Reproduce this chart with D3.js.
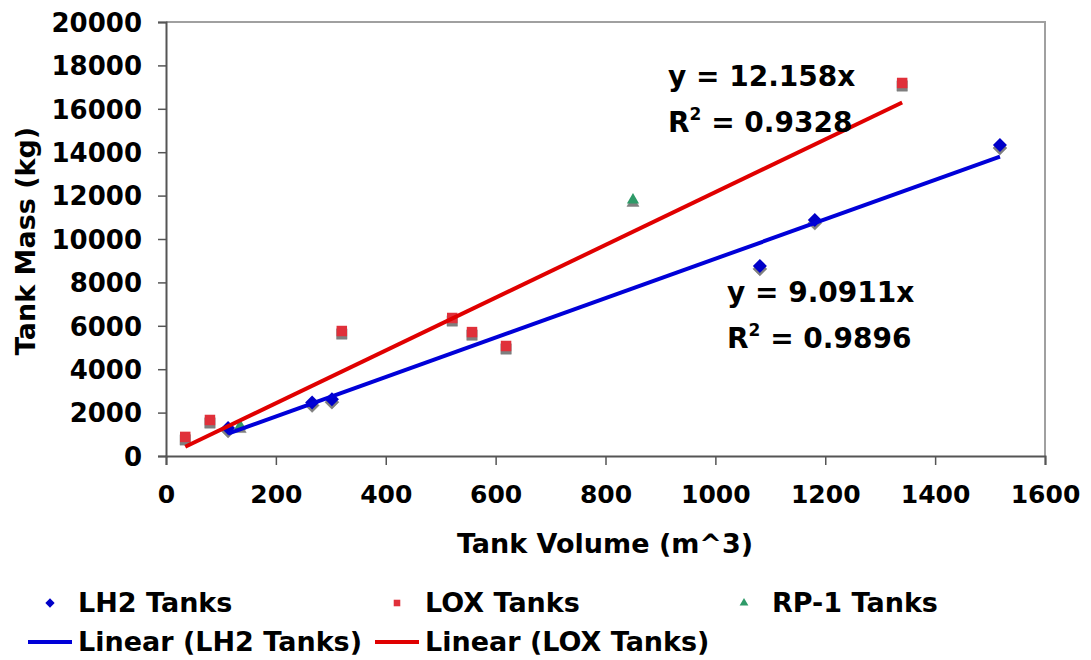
<!DOCTYPE html>
<html>
<head>
<meta charset="utf-8">
<script src="https://cdn.jsdelivr.net/npm/d3@7"></script>
<style>
  body { margin: 0; background: white; }
  text { font-family: "DejaVu Sans", Verdana, sans-serif; font-weight: bold; fill: #000; }
</style>
</head>
<body>
<div id="Canvas"></div>
<script>
// 資料 (讀圖估計)
let LH2_Vol  = [113, 266, 302, 1081, 1181, 1518]
let LH2_Mass = [1290, 2470, 2620, 8760, 10870, 14330]
let LOX_Vol  = [35, 80, 320, 521, 557, 619, 1340]
let LOX_Mass = [880, 1660, 5760, 6360, 5710, 5070, 17190]
let RP1_Vol  = [135, 850]
let RP1_Mass = [1380, 11800]
let LH2_Slope = 9.0911, LH2_R2 = 0.9896
let LOX_Slope = 12.158, LOX_R2 = 0.9328
let X_Ticks = [0, 200, 400, 600, 800, 1000, 1200, 1400, 1600]
let Y_Ticks = [0, 2000, 4000, 6000, 8000, 10000, 12000, 14000, 16000, 18000, 20000]

let W = 1091, H = 660
let svg = d3.select("#Canvas").append("svg")
    .attr("width", W).attr("height", H)
    .style("background", "white")

let X_Scale = d3.scaleLinear().domain([0, 1600]).range([166, 1045])
let Y_Scale = d3.scaleLinear().domain([0, 20000]).range([456, 22])

//外框 (上、右)
svg.append("path")
    .attr("d", `M${X_Scale(0)},${Y_Scale(20000)}H${X_Scale(1600)}V${Y_Scale(0)}`)
    .attr("fill", "none").attr("stroke", "#a0a0a0").attr("stroke-width", 2)

//軸
let Y_axis = d3.axisLeft(Y_Scale).tickValues(Y_Ticks).tickFormat(d3.format("d")).tickSize(8).tickPadding(16)
let gy = svg.append("g").attr("class", "Y_axis")
    .attr("transform", `translate(${X_Scale(0)},0)`)
    .call(Y_axis)
let X_axis = d3.axisBottom(X_Scale).tickValues(X_Ticks).tickFormat(d3.format("d")).tickSize(9).tickPadding(20)
let gx = svg.append("g").attr("class", "X_axis")
    .attr("transform", `translate(0,${Y_Scale(0)})`)
    .call(X_axis)
;[gx, gy].forEach(g => {
    g.select(".domain").attr("stroke", "#555").attr("stroke-width", 2)
    g.selectAll(".tick line").attr("stroke", "#555").attr("stroke-width", 1.5)
    g.selectAll(".tick text").style("font-size", "25px")
        .style("font-family", "'DejaVu Sans', Verdana, sans-serif").style("font-weight", "bold")
})
gy.selectAll(".tick text").attr("dy", "0.36em").style("font-size", "26px")

//軸標題
svg.append("text").attr("x", 605).attr("y", 553).attr("text-anchor", "middle")
    .style("font-size", "27px").text("Tank Volume (m^3)")
svg.append("text").attr("transform", "translate(35,241) rotate(-90)").attr("text-anchor", "middle")
    .style("font-size", "27px").text("Tank Mass (kg)")

//趨勢線
function Trend(vols, slope, color){
    let xs = [d3.min(vols), d3.max(vols)]
    let l = d3.line().x(d => X_Scale(d)).y(d => Y_Scale(slope * d))
    svg.append("path").attr("d", l(xs))
        .attr("stroke", color).attr("stroke-width", 4).attr("fill", "none")
}

//標記
let Sym = {
    diamond: d3.symbol().type(d3.symbolDiamond2).size(125),
    square:  d3.symbol().type(d3.symbolSquare2).size(140),
    triangle: d3.symbol().type(d3.symbolTriangle2).size(105)
}
function Points(vols, masses, sym, color){
    let g = svg.append("g")
    let pts = vols.map((v, i) => [v, masses[i]])
    g.selectAll(".shadow").data(pts).enter().append("path").attr("class", "shadow")
        .attr("d", Sym[sym]())
        .attr("transform", d => `translate(${X_Scale(d[0])},${Y_Scale(d[1]) + 3})`)
        .attr("fill", "#7f7f7f").attr("stroke", "#7f7f7f").attr("stroke-width", 0.5)
    g.selectAll(".pt").data(pts).enter().append("path").attr("class", "pt")
        .attr("d", Sym[sym]())
        .attr("transform", d => `translate(${X_Scale(d[0])},${Y_Scale(d[1])})`)
        .attr("fill", color)
}

Points(RP1_Vol, RP1_Mass, "triangle", "#2e9a68")
Points(LOX_Vol, LOX_Mass, "square", "#e0303a")
Points(LH2_Vol, LH2_Mass, "diamond", "#0000c8")
Trend(LOX_Vol, LOX_Slope, "#e00000")
Trend(LH2_Vol, LH2_Slope, "#0000d8")

//方程式
function Eq(x, y, slope, r2){
    svg.append("text").attr("x", x).attr("y", y).style("font-size", "28px")
        .text("y = " + slope + "x")
    let t = svg.append("text").attr("x", x).attr("y", y + 46).style("font-size", "28px")
    t.append("tspan").text("R")
    t.append("tspan").attr("dy", -12).style("font-size", "17px").text("2")
    t.append("tspan").attr("dy", 12).text(" = " + r2)
}
Eq(668, 86, LOX_Slope, LOX_R2)
Eq(727, 302, LH2_Slope, LH2_R2)

//圖例
let Legend_Items = [
    {name: "LH2 Tanks", kind: "diamond", color: "#0000c8", x: 50, y: 603},
    {name: "LOX Tanks", kind: "square", color: "#e0303a", x: 397, y: 603},
    {name: "RP-1 Tanks", kind: "triangle", color: "#2e9a68", x: 744, y: 603},
    {name: "Linear (LH2 Tanks)", kind: "line", color: "#0000d8", x: 50, y: 642},
    {name: "Linear (LOX Tanks)", kind: "line", color: "#e00000", x: 397, y: 642}
]
let leg = svg.append("g").selectAll("g").data(Legend_Items).enter().append("g")
    .attr("transform", d => `translate(${d.x},${d.y})`)
leg.each(function(d){
    let g = d3.select(this)
    if(d.kind == "line"){
        g.append("line").attr("x1", -22).attr("x2", 22).attr("stroke", d.color).attr("stroke-width", 4)
    }else{
        g.append("path").attr("d", d3.symbol().type(
            d.kind == "diamond" ? d3.symbolDiamond2 : d.kind == "square" ? d3.symbolSquare2 : d3.symbolTriangle2).size(55)())
            .attr("fill", d.color)
    }
    g.append("text").attr("x", 28).attr("y", 9).style("font-size", "27px").text(d.name)
})
</script>
</body>
</html>
